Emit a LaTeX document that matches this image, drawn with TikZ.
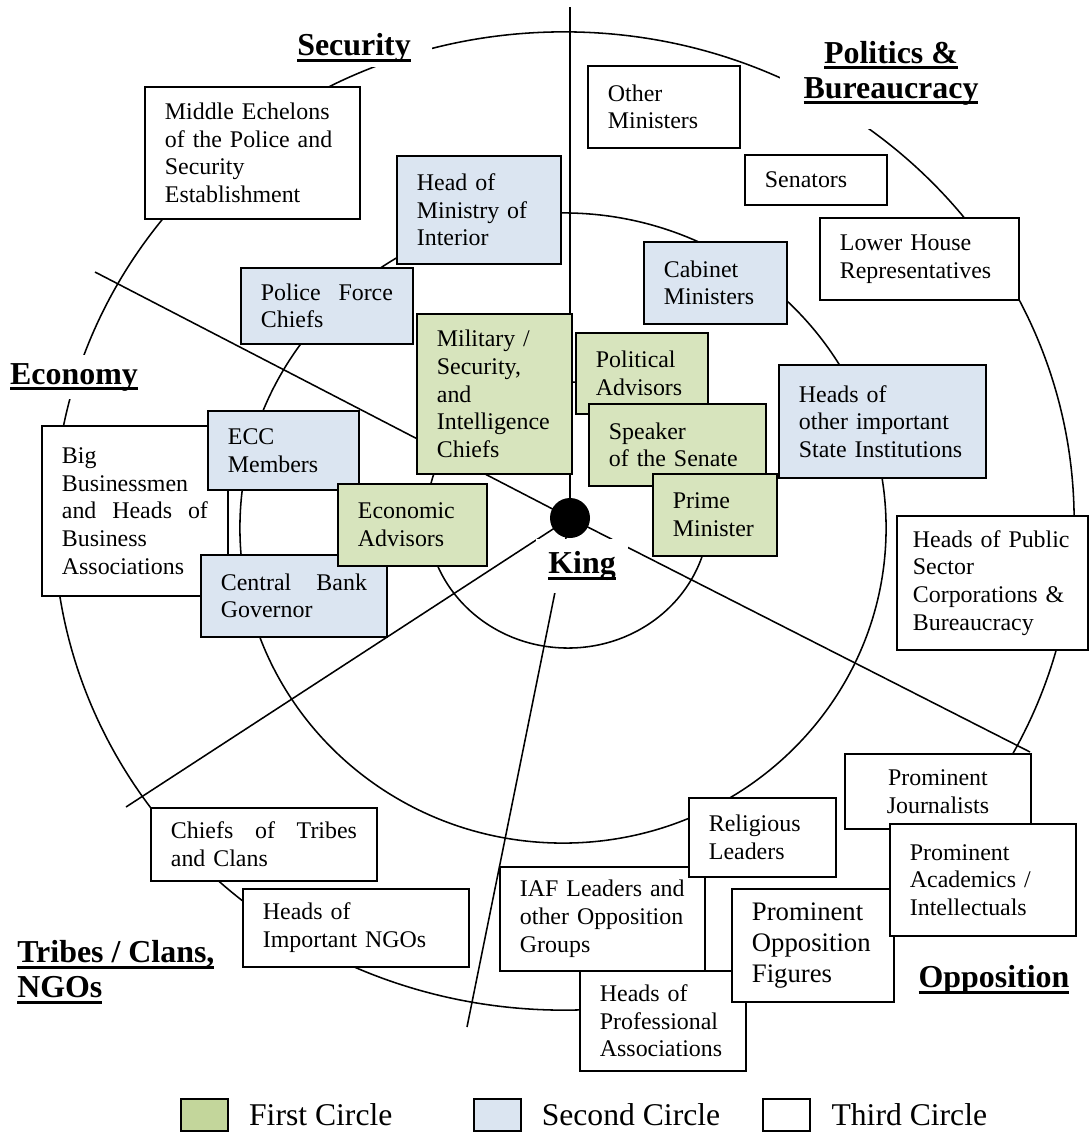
\documentclass[tikz,border=0pt]{standalone}
\usepackage{fontspec}
\setmainfont{Liberation Serif}
\usetikzlibrary{positioning}
\setlength{\parindent}{0pt}
\definecolor{firstc}{HTML}{D7E4BD}
\definecolor{secondc}{HTML}{DBE5F1}
\definecolor{firstleg}{HTML}{C3D69B}
\newcommand{\bxfont}{\fontsize{17}{19.7}\selectfont}
\newcommand{\bgfont}{\fontsize{19}{22}\selectfont}
\newcommand{\hdfont}{\fontsize{22.7}{24.9}\selectfont\bfseries}
\newcommand{\lgfont}{\fontsize{22.5}{27}\selectfont}
\newsavebox{\hdbox}
\newcommand{\ulh}[1]{\sbox{\hdbox}{#1}\rlap{\rule[-4.4pt]{\wd\hdbox}{2.1pt}}\usebox{\hdbox}}
\tikzset{x=0.025cm,y=-0.025cm}
\tikzset{
  ring/.style={line width=1.1pt},
  spoke/.style={line width=1.1pt},
  box/.style={draw,line width=1.3pt,rectangle,anchor=north west,inner xsep=0.5cm,inner ysep=0.1cm,align=left,font=\bxfont},
  firstbox/.style={box,fill=firstc},
  secondbox/.style={box,fill=secondc},
  thirdbox/.style={box,fill=white},
  headtxt/.style={fill=white,font=\hdfont,inner sep=0pt},
  legsq/.style={draw,line width=1.3pt,minimum width=1.175cm,minimum height=0.8cm,inner sep=0pt},
  legtx/.style={font=\lgfont,inner sep=0pt}
}

\begin{document}
\begin{tikzpicture}[x=0.025cm,y=-0.025cm]
\fill[white] (0,0) rectangle (1088,1132);
\useasboundingbox (0,0) rectangle (1088,1132);

\draw[ring] (564,521) ellipse [x radius=12.75cm, y radius=12.225cm];
\draw[ring] (563,528) ellipse [x radius=8.075cm, y radius=7.875cm];
\draw[ring] (568,515) ellipse [x radius=3.525cm, y radius=3.325cm];

\coordinate (k) at (570,518);
\coordinate (up) at (570,7);
\coordinate (ul) at (95,272);
\coordinate (ll) at (126,807);
\coordinate (dn) at (467,1027);
\coordinate (lr) at (1030,752);
\path[spoke]
    (k) edge (up)
    (k) edge (ul)
    (k) edge (ll)
    (k) edge (dn)
    (k) edge (lr);

\node[headtxt,inner xsep=0.53cm,inner ysep=0.1cm] (sec) at (354,48) {\ulh{Security}};
\node[headtxt,inner sep=0.6cm,align=center] (pol) at (891,73) {\ulh{Politics \&}\\\ulh{Bureaucracy}};
\node[headtxt,inner xsep=0.15cm,inner ysep=0.2cm] (eco) at (74,377) {\ulh{Economy}};
\node[headtxt,anchor=west,align=left] (trb) at (17,972) {\ulh{Tribes / Clans,}\\\ulh{NGOs}};
\node[headtxt] (opp) at (994,980) {\ulh{Opposition}};

\node[thirdbox,text width=4.375cm,minimum height=3.3cm] (mec) at (144,86) {Middle Echelons\\of the Police and\\Security\\Establishment};
\node[thirdbox,text width=2.8cm,minimum height=2.05cm] (omi) at (587,65) {Other\\Ministers};
\node[thirdbox,text width=2.55cm,minimum height=1.25cm] (sen) at (744,154) {Senators};
\node[thirdbox,text width=3.975cm,minimum height=2.05cm] (lhr) at (819,217) {Lower House\\Representatives};
\node[thirdbox,inner xsep=0.4cm,text width=3.975cm,minimum height=3.35cm] (hps) at (896,515) {Heads of Public\\Sector\\Corporations \&\\Bureaucracy};
\node[thirdbox,text width=3.65cm,minimum height=4.25cm] (bbh) at (41,425) {Big\\Businessmen\\and\hfill Heads\hfill of\\Business\\Associations};
\node[thirdbox,text width=4.65cm,minimum height=1.825cm] (cot) at (150,807) {Chiefs\hfill of\hfill Tribes\\and Clans};
\node[thirdbox,text width=4.65cm,minimum height=1.95cm] (hin) at (242,888) {Heads of\\Important NGOs};
\node[thirdbox,text width=3.15cm,minimum height=2.5cm] (hpa) at (579,970) {Heads of\\Professional\\Associations};
\node[thirdbox,text width=4.125cm,minimum height=2.6cm] (iaf) at (499,866) {IAF Leaders and\\other Opposition\\Groups};
\node[thirdbox,text width=2.675cm,minimum height=1.975cm] (rel) at (688,797) {Religious\\Leaders};
\node[thirdbox,font=\bgfont,text width=3.05cm,minimum height=2.825cm] (pof) at (731,888) {Prominent\\Opposition\\Figures};
\node[thirdbox,align=center,text width=3.65cm,minimum height=1.875cm] (pjo) at (844,753) {Prominent\\Journalists};
\node[thirdbox,text width=3.65cm,minimum height=2.8cm] (pac) at (889,823) {Prominent\\Academics /\\Intellectuals};

\node[secondbox,text width=3.1cm,minimum height=2.7cm] (hmi) at (396,155) {Head of\\Ministry of\\Interior};
\node[secondbox,text width=3.3cm,minimum height=1.9cm] (pfc) at (240,267) {Police\hfill Force\\Chiefs};
\node[secondbox,text width=2.575cm,minimum height=2.05cm] (cab) at (643,241) {Cabinet\\Ministers};
\node[secondbox,text width=4.175cm,minimum height=2.825cm] (hoi) at (778,364) {Heads of\\other important\\State Institutions};
\node[secondbox,text width=2.775cm,minimum height=1.975cm] (ecc) at (207,410) {ECC\\Members};
\node[secondbox,text width=3.65cm,minimum height=2.05cm] (cbg) at (200,554) {Central\hfill Bank\\Governor};

\node[firstbox,text width=2.875cm,minimum height=4cm] (msi) at (416,313) {Military /\\Security,\\and\\Intelligence\\Chiefs};
\node[firstbox,text width=2.3cm,minimum height=2.025cm] (pad) at (575,332) {Political\\Advisors};
\node[firstbox,text width=3.425cm,minimum height=2.05cm] (sps) at (588,403) {Speaker\\of the Senate};
\node[firstbox,text width=2.1cm,minimum height=2.05cm] (pmi) at (652,473) {Prime\\Minister};
\node[firstbox,text width=2.725cm,minimum height=2.05cm] (eca) at (337,483) {Economic\\Advisors};

\node[circle,fill=black,minimum size=1cm,inner sep=0pt] (dot) at (k) {};
\node[headtxt,inner xsep=0.3cm,inner ysep=0.3cm] (king) at (582,566) {\ulh{King}};

\node[legsq,fill=firstleg,anchor=north west] (lg1) at (180,1098) {};
\node[legtx,right=0.5cm of lg1] (lt1) {First Circle};
\node[legsq,fill=secondc,right=2cm of lt1] (lg2) {};
\node[legtx,right=0.5cm of lg2] (lt2) {Second Circle};
\node[legsq,fill=white,right=1.05cm of lt2] (lg3) {};
\node[legtx,right=0.5cm of lg3] (lt3) {Third Circle};
\end{tikzpicture}
\end{document}
